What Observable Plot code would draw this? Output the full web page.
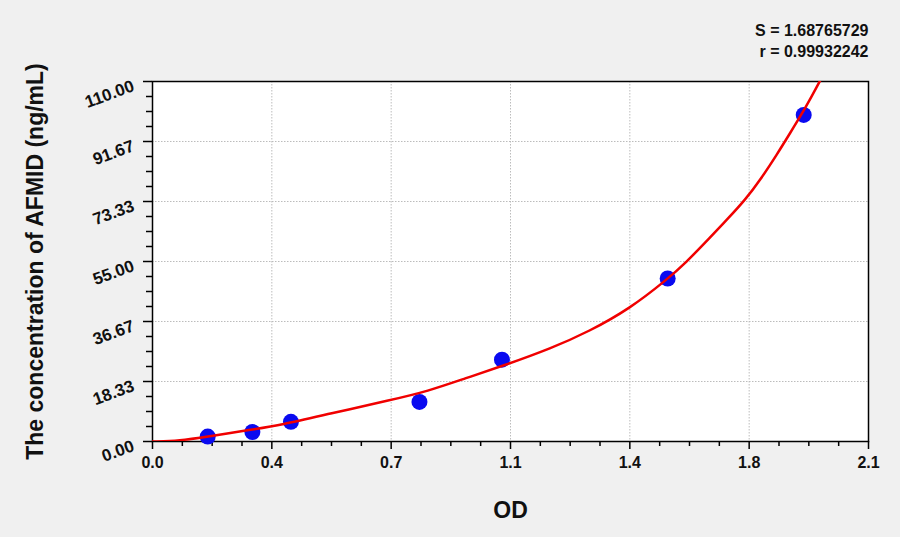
<!DOCTYPE html>
<html><head><meta charset="utf-8">
<script src="https://cdn.jsdelivr.net/npm/d3@7"></script>
<script src="https://cdn.jsdelivr.net/npm/@observablehq/plot@0.6"></script>
<style>html,body{margin:0;padding:0;background:#f0f0f0;} svg{display:block}</style>
</head><body><div id="chart"></div>
<script>
// Standard points (OD vs concentration)
const odValues   = [0.162, 0.293, 0.406, 0.783, 1.025, 1.511, 1.910];
const concValues = [1.5, 2.9, 6.0, 12.1, 25.0, 49.8, 99.8];
// Fitted curve
const curveOD   = [0, 0.08, 0.16, 0.29, 0.375, 0.52, 0.70, 0.806, 0.92, 1.03, 1.17, 1.28, 1.40, 1.509, 1.563, 1.636, 1.685, 1.739, 1.783, 1.832, 1.871, 1.905, 1.935, 1.959];
const curveConc = [0, 0.2, 1.5, 3.6, 5.0, 8.5, 12.7, 15.3, 19.4, 23.2, 28.5, 33.6, 40.6, 49.5, 54.5, 62.4, 67.8, 73.9, 80.0, 87.8, 94.4, 100.2, 105.8, 110.4];
// Axes
const xTicks = [0, 0.35, 0.7, 1.05, 1.4, 1.75, 2.1];
const xTickLabels = ["0.0", "0.4", "0.7", "1.1", "1.4", "1.8", "2.1"];
const yTicks = [0, 18.333, 36.667, 55, 73.333, 91.667, 110];
const yTickLabels = ["0.00", "18.33", "36.67", "55.00", "73.33", "91.67", "110.00"];
const statsLines = ["S = 1.68765729", "r = 0.99932242"];
const xTitle = "OD";
const yTitle = "The concentration of AFMID (ng/mL)";

const font = "Arial, 'Liberation Sans', sans-serif";
const points = odValues.map((x, i) => ({x, y: concValues[i]}));
const curve = curveOD.map((x, i) => ({x, y: curveConc[i]}));
const subdivide = (ticks) => ticks.slice(1).flatMap((t, i) => [1, 2, 3].map(k => ticks[i] + (t - ticks[i]) * k / 4));
const xMinor = subdivide(xTicks);
const yMinor = subdivide(yTicks);

const chart = Plot.plot({
  width: 900, height: 537,
  marginLeft: 152, marginRight: 32, marginTop: 81, marginBottom: 96,
  style: {background: "#f0f0f0", fontFamily: font, overflow: "visible", color: "black"},
  x: {domain: [0, 2.1], axis: null},
  y: {domain: [0, 110], axis: null},
  marks: [
    Plot.frame({fill: "white"}),
    Plot.gridX(xTicks.slice(1, -1), {stroke: "#bcbcbc", strokeOpacity: 1, strokeWidth: 1, strokeDasharray: "1.5,1.5"}),
    Plot.gridY(yTicks.slice(1, -1), {stroke: "#bcbcbc", strokeOpacity: 1, strokeWidth: 1, strokeDasharray: "1.5,1.5"}),
    Plot.axisX(xTicks, {label: null, tickSize: 8, tickFormat: () => "", stroke: "black", strokeWidth: 1.5}),
    Plot.axisX(xMinor, {label: null, tickSize: 5, tickFormat: () => "", stroke: "black", strokeWidth: 1.5}),
    Plot.axisY(yTicks, {label: null, tickSize: 9, tickFormat: () => "", stroke: "black", strokeWidth: 1.5}),
    Plot.axisY(yMinor, {label: null, tickSize: 6, tickFormat: () => "", stroke: "black", strokeWidth: 1.5}),
    Plot.text(xTicks, {x: d => d, text: (d, i) => xTickLabels[i], frameAnchor: "bottom", lineAnchor: "top", dy: 15, fontSize: 16, fontWeight: "bold", fill: "#111"}),
    Plot.text(yTicks, {y: d => d, text: (d, i) => yTickLabels[i], frameAnchor: "left", textAnchor: "end", lineAnchor: "middle", dx: -19, dy: 4, rotate: -20, fontSize: 17, fontWeight: "bold", fill: "#111"}),
    Plot.text([yTitle], {frameAnchor: "left", textAnchor: "middle", lineAnchor: "middle", dx: -117, rotate: -90, fontSize: 23, fontWeight: "bold", fill: "#111"}),
    Plot.text([xTitle], {frameAnchor: "bottom", textAnchor: "middle", lineAnchor: "middle", dy: 69, fontSize: 23, fontWeight: "bold", fill: "#111"}),
    Plot.text([statsLines[0]], {frameAnchor: "top-right", textAnchor: "end", lineAnchor: "middle", dy: -51, fontSize: 16, fontWeight: "bold", fill: "#111"}),
    Plot.text([statsLines[1]], {frameAnchor: "top-right", textAnchor: "end", lineAnchor: "middle", dy: -30, fontSize: 16, fontWeight: "bold", fill: "#111"}),
    Plot.frame({stroke: "black", strokeWidth: 1.5}),
    Plot.dot(points, {x: "x", y: "y", r: 8, fill: "#0a0af0", stroke: "none"}),
    Plot.line(curve, {x: "x", y: "y", curve: "basis", stroke: "#f00000", strokeWidth: 2.5, clip: true})
  ]
});
document.getElementById("chart").appendChild(chart);
</script>
</body></html>
